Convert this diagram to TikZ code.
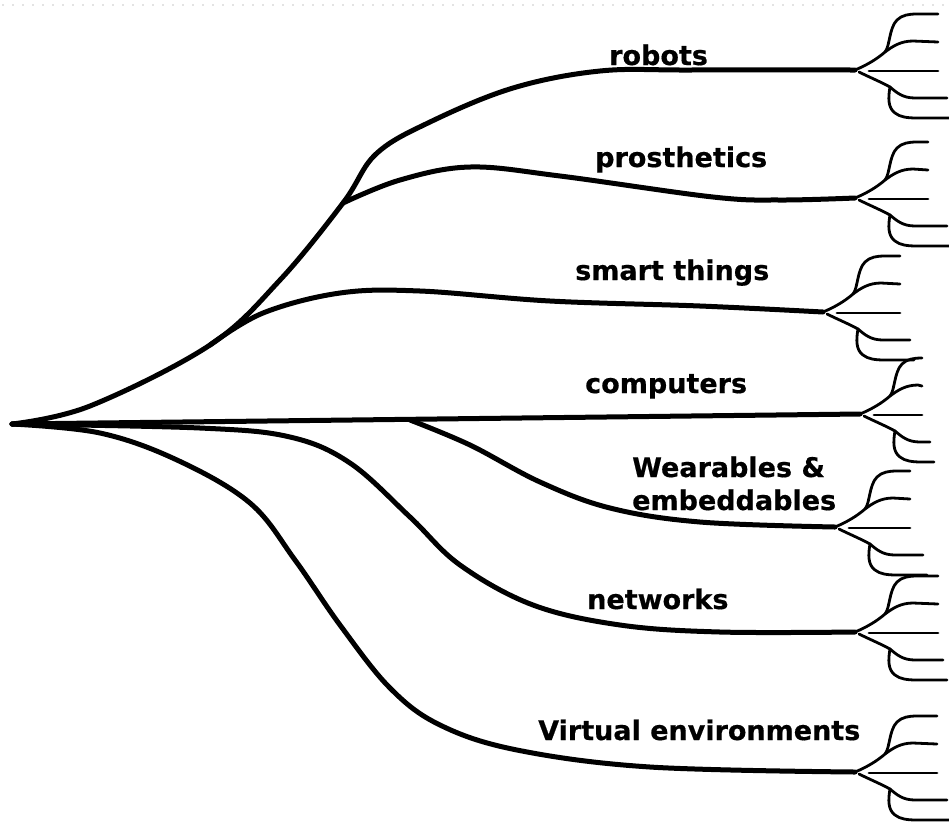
\documentclass[tikz,border=0pt]{standalone}
\usepackage{fontspec}
\setmainfont{DejaVu Sans}
\newfontfamily\lblfont{DejaVu Sans}[BoldFeatures={FakeBold=0.5}]
\tikzset{
  branch/.style={line width=5pt, line cap=round, line join=round},
  twig/.style={line width=2.8pt, line cap=round, line join=round},
  lbl/.style={font=\lblfont\bfseries\fontsize{27}{33}\selectfont, inner sep=0pt, anchor=base west},
  pics/fan/.style 2 args={code={
    \draw[twig] (0,0) .. controls (12,-5) and (22,-11) .. (30,-18)
      .. controls (35,-24) and (34,-42) .. (42,-50)
      .. controls (47,-55) and (54,-56) .. (62,-56) -- (#1,-56);
    \draw[twig] (30,-18) .. controls (38,-24) and (46,-29) .. (58,-29) -- (#1,-28);
    \draw[twig] (14,1) -- (#1,1);
    \draw[twig] (4,2) .. controls (14,7) and (26,12) .. (35,17)
      .. controls (42,23) and (48,28) .. (60,28) -- (#2,28);
    \draw[twig] (35,17) .. controls (33,28) and (33,38) .. (40,43)
      .. controls (45,47) and (52,48) .. (62,48) -- (#2+4,48);
  }}
}
\begin{document}
\begin{tikzpicture}[x=1pt,y=-1pt]
\useasboundingbox (0,0) rectangle (949,823);
\fill[white] (0,0) rectangle (949,823);
\draw[gray!22, line width=2pt, dash pattern=on 2pt off 8pt] (2,5) -- (949,5);

% named points
\coordinate (root) at (12,424);
\coordinate (sRP) at (343,203);
\coordinate (sST) at (210,345);
\coordinate (sW) at (410,420);
\coordinate (eR) at (855,70);
\coordinate (eP) at (855,198);
\coordinate (eS) at (823,312);
\coordinate (eC) at (860,414);
\coordinate (eW) at (835,527);
\coordinate (eN) at (855,632);
\coordinate (eV) at (855,772);

% main branches
\draw[branch] plot[smooth, tension=0.6] coordinates {(root) (90,406) (sST) (280,280) (sRP) (376,154) (430,122) (513,88) (600,71) (690,70) (eR)};
\draw[branch] plot[smooth, tension=0.6] coordinates {(sRP) (400,180) (470,167) (560,176) (713,197) (780,200) (eP)};
\draw[branch] plot[smooth, tension=0.6] coordinates {(sST) (263,313) (340,293) (420,291) (550,301) (700,306) (eS)};
\draw[branch] (root) -- (eC);
\draw[branch] plot[smooth, tension=0.6] coordinates {(sW) (470,445) (540,482) (610,508) (700,522) (eW)};
\draw[branch] plot[smooth, tension=0.6] coordinates {(root) (200,428) (290,437) (350,463) (410,517) (460,565) (533,605) (620,625) (720,632) (eN)};
\draw[branch] plot[smooth, tension=0.6] coordinates {(root) (100,433) (177,460) (250,503) (295,560) (340,625) (390,688) (440,725) (517,750) (650,767) (eV)};

% fans
\pic at (eR) {fan={83}{92}};
\pic at (eP) {fan={73}{92}};
\pic at (eS) {fan={77}{87}};
\pic at (eC) {fan={62}{70}};
\pic at (eW) {fan={75}{88}};
\pic at (eN) {fan={83}{88}};
\pic at (eV) {fan={82}{92}};

% labels
\node[lbl] (lR) at (609,65) {robots};
\node[lbl] (lP) at (595,167) {prosthetics};
\node[lbl] (lS) at (575,280) {smart things};
\node[lbl] (lC) at (585,393) {computers};
\node[lbl] (lW1) at (632,477) {Wearables \&};
\node[lbl] (lW2) at (632,510) {embeddables};
\node[lbl] (lN) at (587,609) {networks};
\node[lbl] (lV) at (538,740) {Virtual environments};
\end{tikzpicture}
\end{document}
